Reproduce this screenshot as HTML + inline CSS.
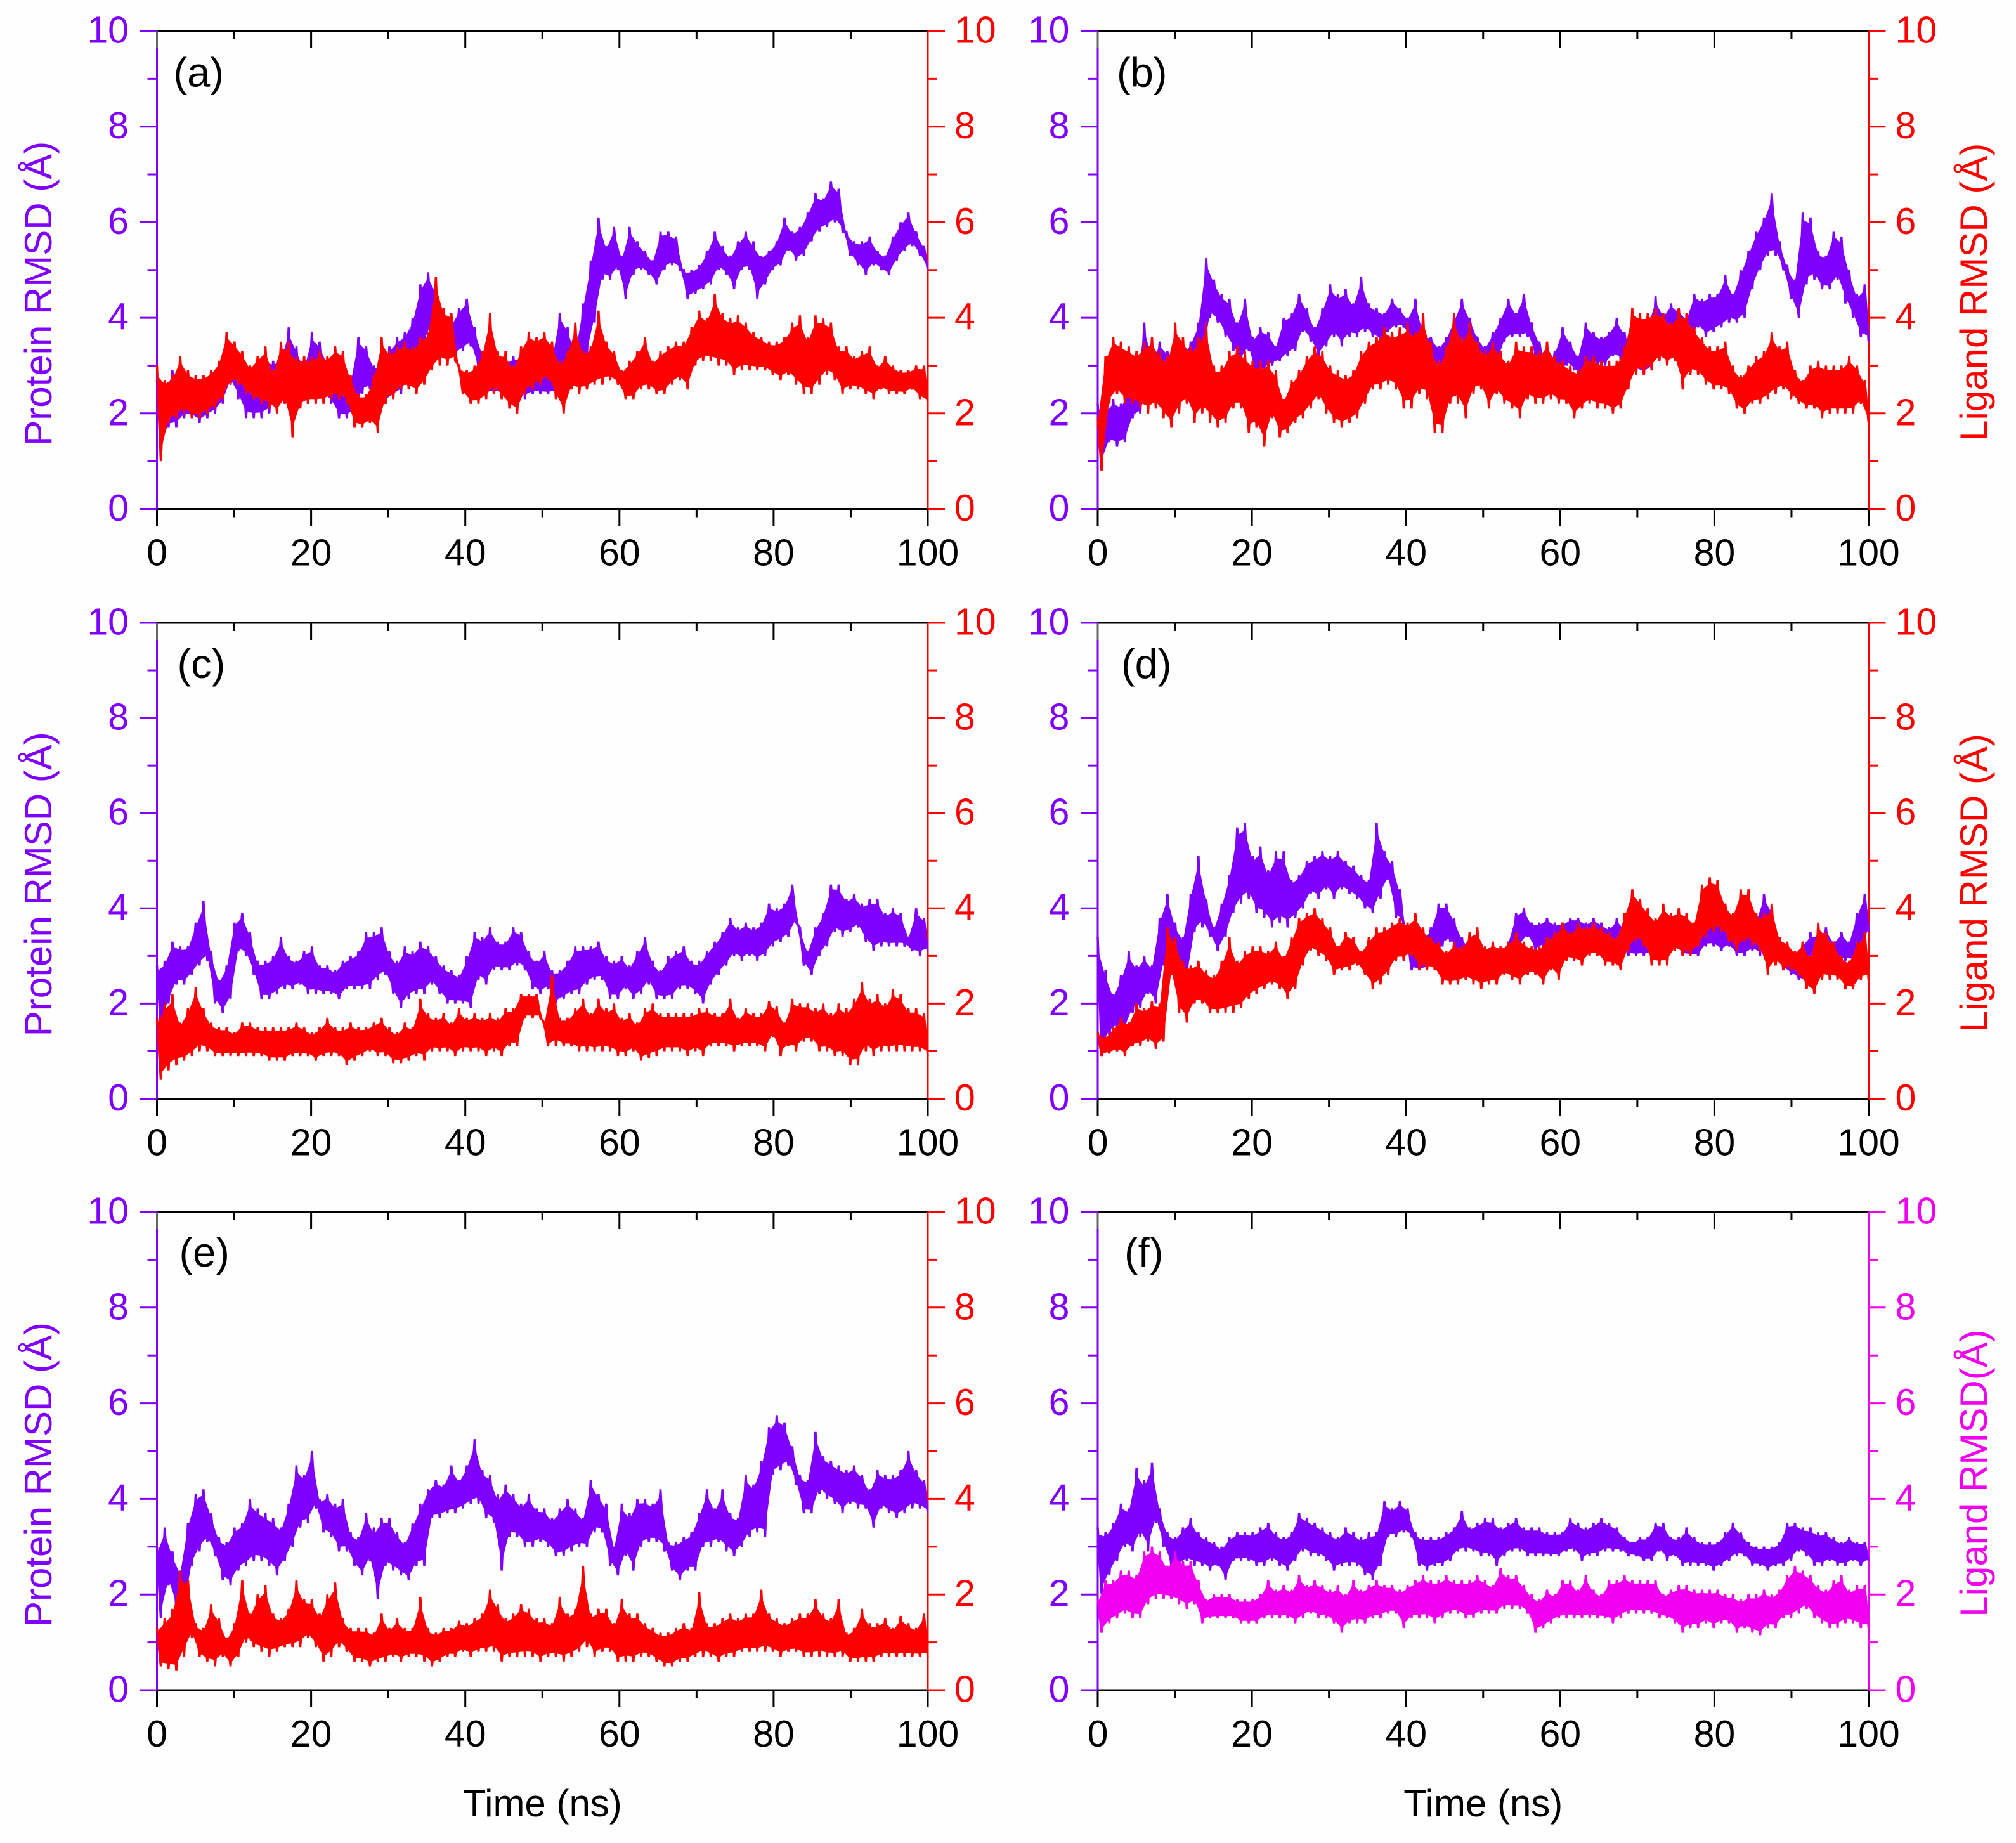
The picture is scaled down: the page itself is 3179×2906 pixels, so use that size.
<!DOCTYPE html>
<html lang="en">
<head>
<meta charset="utf-8">
<title>Protein and ligand RMSD over time</title>
<style>
html,body{margin:0;padding:0;background:#fefefe;}
svg{display:block;font-family:"Liberation Sans",Arial,sans-serif;}
</style>
</head>
<body>
<svg id="figure" xmlns="http://www.w3.org/2000/svg" width="3179" height="2906" viewBox="0 0 3179 2906"></svg>
<script>
const xMajorTicks = [0,20,40,60,80,100];
const xMinorTicks = [10,30,50,70,90];
const yMajorTicks = [0,2,4,6,8,10];
const yMinorTicks = [1,3,5,7,9];
const panelLetters = ['(a)','(b)','(c)','(d)','(e)','(f)'];
const xTitle = 'Time (ns)';
const proteinTitle = 'Protein RMSD (Å)';
const ligandTitle = 'Ligand RMSD (Å)';
const ligandTitleF = 'Ligand RMSD(Å)';

/* each series: alternating upper / lower trace readings, one pair per ns */
const aProtein = [
2.7,1.2,2.6,1.7,2.9,1.7,2.8,1.9,2.7,1.9,2.6,1.8,2.8,1.9,2.9,2.0,3.0,2.2,3.7,2.6,
3.5,2.3,3.2,1.9,3.0,1.9,3.1,1.9,3.2,2.0,3.1,2.2,3.2,2.2,3.8,2.3,3.4,2.2,3.0,2.2,
3.7,2.2,3.5,2.3,3.1,2.2,2.9,1.9,2.8,1.9,2.7,2.0,3.6,2.4,3.4,2.5,3.0,2.3,3.1,2.2,
3.4,2.3,3.6,2.4,3.7,2.6,4.0,2.8,4.7,3.4,4.95,3.8,4.6,3.7,4.2,3.4,3.9,3.2,4.2,3.3,
4.4,3.4,3.8,2.9,3.3,2.4,3.0,2.4,3.1,2.4,3.1,2.5,3.2,2.4,3.2,2.3,3.1,2.4,3.0,2.4,
2.9,2.4,3.2,2.4,4.1,3.0,3.8,2.9,3.3,2.7,4.3,3.2,5.2,3.9,6.1,4.8,5.5,4.8,5.9,5.0,
5.3,4.4,5.9,4.9,5.6,5.0,5.4,4.9,5.2,4.7,5.8,5.0,5.8,5.1,5.7,5.0,5.0,4.4,5.0,4.5,
5.1,4.6,5.4,4.7,5.8,5.0,5.5,4.9,5.3,4.6,5.6,5.0,5.8,5.0,5.6,4.4,5.3,4.7,5.4,5.0,
5.6,5.1,6.1,5.4,5.8,5.2,5.9,5.3,6.2,5.6,6.6,5.8,6.5,5.9,6.85,6.0,6.7,5.8,5.8,5.3,
5.6,5.1,5.6,4.9,5.7,5.1,5.4,5.0,5.3,4.9,5.7,5.2,6.0,5.4,6.2,5.5,5.8,5.3,5.5,5.0];
const aLigand = [
3.0,1.0,2.7,1.8,2.8,1.9,3.2,2.0,2.9,1.9,2.8,1.9,2.8,2.0,2.9,2.1,3.1,2.3,3.7,2.6,
3.5,2.6,3.3,2.4,3.0,2.3,3.2,2.2,3.4,2.1,2.9,2.0,3.5,2.2,3.5,1.5,3.2,2.1,3.2,2.2,
3.2,2.2,3.3,2.2,3.2,2.3,3.4,2.3,3.3,2.2,2.8,1.7,2.4,1.7,2.4,1.8,2.8,1.6,3.6,2.2,
3.3,2.3,3.4,2.5,3.5,2.5,3.4,2.4,3.6,2.6,3.7,2.9,4.85,3.0,4.2,3.0,4.1,3.1,3.0,2.4,
2.9,2.2,3.0,2.2,3.3,2.3,4.1,2.4,3.3,2.3,3.3,2.1,3.0,2.0,3.4,2.4,3.7,2.5,3.6,2.6,
3.7,2.7,3.5,2.3,3.1,2.0,3.3,2.5,3.9,2.4,3.3,2.5,3.4,2.6,4.15,2.6,3.5,2.7,3.3,2.6,
2.9,2.3,3.1,2.3,3.3,2.5,3.6,2.5,3.1,2.4,3.3,2.4,3.4,2.6,3.5,2.7,3.5,2.5,3.8,3.0,
4.15,3.1,4.0,3.1,4.5,3.0,4.1,3.0,4.0,2.8,4.05,2.9,3.9,2.9,3.7,2.9,3.6,2.9,3.5,2.8,
3.5,2.7,3.6,2.8,3.9,2.6,4.05,2.4,3.6,2.4,4.05,2.6,4.0,2.8,3.9,2.7,3.4,2.4,3.4,2.5,
3.2,2.5,3.3,2.4,3.4,2.3,3.0,2.5,3.2,2.4,3.0,2.4,2.9,2.4,2.9,2.5,3.0,2.3,3.0,2.2];
const bProtein = [
2.2,0.9,2.1,1.4,2.3,1.3,2.2,1.4,2.5,1.9,2.7,2.0,3.9,2.4,3.2,2.5,3.5,2.5,3.3,2.6,
3.2,2.4,3.3,2.6,3.5,2.8,3.9,3.0,5.25,4.0,4.8,3.9,4.5,3.6,4.4,3.3,3.9,3.1,4.4,3.3,
3.6,2.7,3.8,2.9,3.7,3.0,3.4,3.1,4.0,3.2,4.1,3.3,4.5,3.7,4.2,3.5,3.8,3.2,4.2,3.4,
4.7,3.6,4.5,3.4,4.6,3.6,4.3,3.6,4.85,3.7,4.3,3.6,4.2,3.5,4.1,3.7,4.4,3.8,4.2,3.8,
4.0,3.5,4.4,3.3,3.7,3.2,3.6,3.0,3.4,2.9,3.6,3.0,4.0,3.2,4.4,3.5,4.0,3.5,3.6,3.1,
3.4,2.9,3.7,3.0,4.0,3.5,4.4,3.6,4.1,3.6,4.5,3.6,3.9,3.2,3.5,3.0,3.0,2.7,3.3,2.6,
3.8,3.0,3.5,2.9,3.2,2.7,3.9,3.0,3.7,3.0,3.6,3.0,3.7,3.2,4.0,3.1,3.7,3.0,3.4,2.9,
3.6,2.8,3.9,2.9,4.45,3.2,4.1,3.3,4.3,3.6,4.2,3.4,4.0,3.5,4.5,3.8,4.4,3.6,4.5,3.7,
4.5,3.8,4.9,3.9,4.5,3.9,5.0,4.0,5.4,4.6,5.8,5.0,6.1,5.3,6.6,5.3,5.6,5.0,5.1,4.4,
4.8,4.0,6.2,4.7,6.1,4.8,5.4,4.6,5.3,4.6,5.8,4.8,5.7,4.3,5.0,4.0,4.5,3.6,4.7,3.5];
const bLigand = [
1.9,0.8,3.2,2.2,3.6,2.4,3.5,2.2,3.4,2.2,3.3,2.1,3.5,2.0,3.6,2.1,3.3,1.9,3.2,1.7,
3.9,2.0,3.6,2.2,3.4,1.8,3.6,2.0,3.9,1.8,3.0,1.7,3.0,1.8,3.3,2.1,3.4,2.1,3.3,1.6,
3.1,1.7,3.1,1.3,3.1,1.9,2.9,1.5,2.3,1.6,2.7,1.8,2.9,1.9,3.2,2.1,3.4,2.3,3.3,2.0,
3.0,1.8,2.9,1.7,2.8,1.8,2.9,1.9,3.3,2.2,3.5,2.5,3.6,2.5,3.8,2.6,3.7,2.5,3.8,2.1,
3.9,2.1,3.7,2.4,4.1,2.3,3.5,1.6,3.1,1.6,3.4,2.2,4.1,2.2,3.6,1.9,3.9,2.4,3.5,2.5,
3.3,2.1,3.5,2.4,3.3,2.2,3.1,2.1,3.5,1.9,3.4,2.3,3.4,2.2,3.3,2.2,3.5,2.3,3.2,2.2,
3.1,2.2,3.0,1.9,2.9,2.1,3.2,2.2,3.2,2.1,3.1,2.1,3.1,2.0,3.1,2.1,3.4,2.5,4.2,2.8,
4.1,2.8,4.1,2.9,4.2,3.1,4.1,3.0,3.9,3.1,4.2,2.5,4.1,2.8,3.8,2.8,3.6,2.6,3.4,2.5,
3.4,2.5,3.5,2.4,3.0,2.1,2.8,2.0,3.0,2.2,3.2,2.2,3.3,2.3,3.7,2.4,3.4,2.5,3.5,2.3,
2.9,2.2,2.7,2.1,3.0,2.1,3.1,1.9,3.0,2.0,3.0,2.0,3.0,2.0,3.2,2.0,3.0,2.2,2.7,1.8];
const cProtein = [
2.8,1.5,2.9,2.0,3.3,2.4,3.2,2.4,3.2,2.6,3.7,2.8,4.15,2.9,3.1,2.0,2.5,1.8,2.8,2.1,
3.7,3.1,3.9,3.0,3.5,2.6,2.9,2.1,2.9,2.1,3.0,2.2,3.4,2.3,3.0,2.3,2.9,2.4,3.1,2.2,
3.2,2.2,2.8,2.2,2.8,2.2,2.7,2.1,2.9,2.3,3.0,2.3,3.1,2.3,3.5,2.3,3.5,2.5,3.6,2.6,
3.1,2.2,2.9,1.9,3.2,2.1,3.1,2.2,3.3,2.2,3.2,2.4,3.0,2.2,2.8,2.0,2.7,2.0,2.6,2.0,
3.0,1.9,3.5,2.5,3.4,2.4,3.6,2.7,3.3,2.7,3.3,2.7,3.6,2.8,3.5,2.7,3.1,2.3,2.9,2.2,
3.1,2.3,2.7,2.0,2.7,2.1,2.9,2.2,3.2,2.2,3.2,2.4,3.2,2.5,3.3,2.5,3.0,2.1,2.9,2.1,
3.0,2.3,2.8,2.1,3.1,2.2,3.4,2.4,2.9,2.1,2.7,2.1,3.0,2.1,3.1,2.3,3.2,2.3,2.9,2.2,
2.9,2.0,3.1,2.4,3.3,2.6,3.5,2.8,3.8,3.0,3.6,2.9,3.7,3.0,3.6,2.9,3.7,3.0,4.1,3.2,
4.0,3.3,4.1,3.4,4.5,3.7,3.6,2.8,3.1,2.6,3.6,3.0,3.9,3.2,4.5,3.5,4.5,3.4,4.2,3.5,
4.3,3.6,4.1,3.3,4.2,3.1,4.2,3.2,3.9,3.2,4.0,3.2,3.9,3.2,3.4,3.1,4.0,3.0,3.8,3.1];
const cLigand = [
1.7,0.4,2.0,0.6,2.2,0.7,1.6,0.8,1.9,0.9,2.35,1.0,1.9,1.0,1.6,0.9,1.5,0.9,1.5,0.9,
1.4,0.9,1.6,0.9,1.6,0.9,1.5,0.9,1.5,0.8,1.5,0.8,1.5,0.8,1.5,0.9,1.6,0.9,1.5,0.9,
1.4,0.8,1.5,0.9,1.7,0.9,1.5,0.9,1.5,0.7,1.6,0.8,1.5,0.9,1.5,1.0,1.6,0.9,1.7,0.9,
1.5,0.75,1.4,0.75,1.6,0.8,1.5,0.9,2.1,0.8,1.8,1.0,1.7,1.0,1.8,1.0,1.6,0.9,1.9,1.0,
1.7,1.0,1.8,1.0,1.7,0.9,1.8,1.0,1.7,0.9,1.9,1.1,1.9,1.1,2.2,1.7,2.2,1.7,2.2,1.7,
1.6,1.1,2.6,1.1,1.7,1.1,1.7,1.1,1.9,1.0,2.1,1.0,1.8,1.0,2.1,1.0,1.9,1.0,2.0,0.9,
1.7,0.9,1.8,1.0,1.6,0.8,1.9,0.85,2.0,0.9,1.8,1.0,1.8,1.0,1.8,1.0,1.8,0.9,1.8,1.0,
1.9,0.9,1.9,1.1,1.8,1.1,1.8,1.1,2.1,1.0,1.7,1.1,1.9,1.1,1.8,1.1,1.8,1.0,2.05,1.3,
1.95,0.9,1.6,1.1,2.1,1.0,2.0,1.2,2.0,1.2,1.9,1.0,2.0,1.0,1.8,0.9,2.0,0.9,1.9,0.7,
2.1,0.7,2.45,1.0,2.1,0.9,2.2,1.0,2.0,1.0,2.3,1.0,2.2,1.0,1.9,1.0,1.9,1.0,1.8,0.9];
const dProtein = [
3.4,0.9,2.7,1.3,2.2,1.5,2.6,1.4,3.1,1.8,2.8,1.9,3.0,2.2,2.8,2.0,3.8,2.8,4.3,3.2,
3.7,2.6,3.4,2.5,4.3,3.5,5.1,3.6,4.2,3.4,3.6,3.1,4.1,3.4,4.7,3.9,5.7,4.1,5.8,4.2,
5.1,3.9,5.3,3.8,4.8,3.6,5.2,3.7,5.2,3.6,4.6,3.8,4.7,4.0,5.0,4.3,5.1,4.2,5.2,4.4,
5.1,4.2,5.2,4.4,5.0,4.3,4.9,4.2,4.7,4.0,4.6,3.9,5.8,4.2,5.2,4.6,5.0,3.8,4.4,3.6,
3.4,2.7,3.1,2.7,3.4,2.7,3.6,2.8,4.1,3.2,4.1,3.3,3.8,3.0,3.4,2.8,3.2,2.7,3.1,2.6,
3.1,2.7,3.2,2.8,3.1,2.8,3.3,2.9,3.9,3.2,4.0,3.4,3.7,3.1,3.7,3.2,3.8,3.2,3.7,3.1,
3.7,3.2,3.8,3.3,3.8,3.3,3.7,3.2,3.8,3.2,3.7,3.1,3.6,3.0,3.8,3.1,3.6,3.0,3.5,3.0,
3.6,3.0,3.6,3.0,3.7,3.1,3.7,3.0,3.7,3.2,3.6,3.0,3.4,3.0,3.4,3.0,3.8,3.2,3.9,3.2,
3.7,3.1,3.6,3.2,3.6,3.0,3.6,3.0,3.8,3.1,3.8,3.0,4.3,3.3,4.0,3.0,3.4,2.7,3.2,2.6,
3.0,2.5,3.3,2.4,3.5,2.5,3.5,2.6,3.6,2.8,3.3,2.9,3.5,2.9,3.3,2.9,3.9,3.1,4.3,3.5];
const dLigand = [
1.4,0.9,1.3,0.95,1.5,1.0,1.7,0.9,1.6,1.1,2.0,1.1,1.9,1.2,2.05,1.05,2.0,1.2,3.6,2.6,
3.4,1.8,2.9,1.6,2.8,2.0,2.9,2.0,2.7,1.8,2.6,1.8,2.9,1.8,3.4,1.8,2.9,1.9,3.1,2.1,
3.2,2.2,3.2,2.3,3.1,2.4,3.3,2.3,3.0,2.1,3.4,2.3,3.8,2.8,3.9,3.1,4.0,3.0,3.8,2.9,
3.6,2.6,3.2,2.7,3.5,2.7,3.4,2.8,3.1,2.6,3.4,2.3,3.6,2.4,3.6,2.6,3.7,2.9,3.8,2.9,
3.7,3.0,3.9,2.7,3.6,2.7,3.4,2.7,3.3,2.4,3.1,2.4,3.3,2.4,3.2,2.5,3.5,2.4,3.6,2.3,
3.2,2.4,3.3,2.4,3.2,2.6,3.3,2.5,3.5,2.4,3.3,2.6,3.2,2.6,3.2,2.4,3.4,2.7,3.5,2.5,
3.7,2.9,3.5,2.9,3.7,2.8,3.6,3.0,3.7,3.0,3.6,2.8,3.5,2.8,3.4,2.7,3.9,3.1,4.4,3.3,
4.2,3.2,4.0,2.8,3.8,2.8,4.1,2.8,3.9,3.1,4.0,3.0,3.9,3.0,3.7,3.2,4.5,3.4,4.65,3.5,
4.6,3.5,4.1,3.3,3.9,3.1,4.4,3.3,4.4,3.2,3.9,3.1,3.9,2.6,4.1,2.8,3.4,2.7,3.3,2.7,
3.1,2.6,3.3,2.3,3.0,2.2,3.7,2.5,3.5,2.5,3.3,2.5,3.0,2.3,2.9,2.3,3.3,2.5,3.5,2.5];
const eProtein = [
3.0,1.5,3.4,2.2,2.9,1.7,2.5,1.7,3.5,2.6,4.1,2.9,4.2,3.1,3.7,2.8,3.2,2.3,3.1,2.2,
3.4,2.5,3.5,2.6,4.0,2.7,3.8,2.7,3.7,2.6,3.6,2.4,3.4,2.7,3.9,3.0,4.7,3.4,4.5,3.5,
5.0,3.8,4.0,3.3,4.1,3.2,3.9,2.9,4.0,2.9,3.3,2.6,3.2,2.4,3.7,2.7,3.4,1.9,3.6,2.6,
3.6,2.5,3.3,2.4,3.1,2.3,3.5,2.6,3.9,2.6,4.2,3.6,4.4,3.6,4.3,3.7,4.7,3.7,4.4,3.8,
4.7,3.9,5.25,3.9,4.6,3.6,4.5,3.5,4.1,2.5,4.3,3.2,4.1,3.2,3.9,3.0,4.1,3.0,3.8,3.1,
3.8,3.0,3.6,2.8,3.8,2.8,4.0,2.9,3.8,3.0,3.6,3.0,4.4,3.3,4.1,3.3,3.9,2.6,3.0,2.4,
3.9,2.8,3.7,2.5,4.0,3.0,4.0,3.1,3.9,3.1,4.2,2.9,3.1,2.5,3.1,2.3,3.2,2.5,3.3,2.5,
3.7,3.0,4.2,3.0,3.8,3.1,4.2,2.9,3.7,2.8,3.6,3.0,4.5,3.2,4.3,3.3,4.8,3.2,5.5,4.5,
5.75,4.6,5.6,4.7,5.1,4.3,4.5,3.7,4.4,3.7,5.4,4.1,4.9,4.0,4.8,3.9,4.7,3.7,4.6,3.9,
4.7,3.8,4.5,3.8,4.2,3.4,4.6,3.8,4.5,3.7,4.5,3.6,4.6,3.7,5.0,3.8,4.6,3.8,4.4,3.7];
const eLigand = [
1.3,0.5,1.5,0.45,1.7,0.4,2.5,0.7,2.3,1.1,1.4,0.7,1.3,0.6,1.8,0.5,1.5,0.7,1.1,0.5,
1.4,0.7,2.3,1.0,1.6,0.9,2.0,0.8,2.2,0.7,1.6,0.8,1.5,0.9,1.7,0.9,2.3,0.9,1.9,1.1,
1.9,0.9,1.6,0.6,2.0,0.7,2.25,0.9,1.5,0.8,1.3,0.6,1.3,0.6,1.3,0.5,1.2,0.6,1.6,0.6,
1.3,0.7,1.5,0.6,1.3,0.7,1.3,0.7,1.95,0.6,1.3,0.5,1.2,0.6,1.3,0.7,1.3,0.7,1.45,0.8,
1.4,0.7,1.5,0.8,1.6,0.8,2.1,0.8,1.8,0.6,1.5,0.7,1.6,0.7,1.8,0.7,1.7,0.7,1.5,0.6,
1.5,0.7,1.4,0.7,1.95,0.6,1.6,0.7,1.7,0.8,2.6,0.9,1.6,0.7,1.7,0.8,1.7,0.8,1.4,0.6,
1.9,0.6,1.6,0.6,1.6,0.7,1.4,0.7,1.3,0.6,1.2,0.5,1.2,0.5,1.3,0.6,1.4,0.6,1.3,0.7,
2.05,0.7,1.4,0.7,1.4,0.6,1.5,0.7,1.6,0.7,1.5,0.8,1.6,0.8,1.6,0.8,2.1,0.8,1.6,0.8,
1.5,0.7,1.4,0.8,1.5,0.8,1.6,0.7,1.6,0.7,1.9,0.7,1.6,0.7,1.5,0.7,1.9,0.7,1.2,0.6,
1.3,0.6,1.7,0.6,1.4,0.6,1.4,0.7,1.5,0.7,1.3,0.7,1.55,0.7,1.4,0.7,1.3,0.7,1.6,0.7];
const fProtein = [
3.4,2.0,3.3,2.4,3.5,2.7,3.9,3.0,3.8,2.9,4.65,3.2,4.4,2.9,4.75,3.5,3.8,3.0,3.3,2.6,
3.2,2.6,3.4,2.7,3.6,2.6,3.3,2.6,3.2,2.5,3.1,2.6,3.0,2.3,3.2,2.7,3.3,2.7,3.3,2.7,
3.3,2.6,3.4,2.6,3.5,2.7,3.3,2.6,3.2,2.5,3.3,2.7,3.7,2.9,3.6,2.8,3.5,2.8,3.4,2.7,
3.3,2.5,3.2,2.6,3.4,2.6,3.3,2.6,3.2,2.4,3.3,2.3,3.3,2.6,3.95,3.2,3.8,3.2,3.95,3.3,
3.8,3.2,3.3,2.6,3.2,2.5,3.2,2.6,3.2,2.6,3.3,2.7,3.4,2.9,3.75,2.9,3.4,2.9,3.5,2.8,
3.6,2.8,3.6,2.6,3.4,2.8,3.5,2.9,3.6,2.9,3.4,2.8,3.4,2.8,3.4,2.8,3.3,2.8,3.3,2.8,
3.3,2.9,3.6,2.9,3.5,2.7,3.4,2.8,3.5,2.8,3.6,2.9,3.5,2.9,3.4,2.9,3.2,2.8,3.1,2.8,
3.2,2.7,3.2,2.7,3.5,2.9,3.5,2.7,3.2,2.8,3.2,2.6,3.4,2.6,3.2,2.6,3.1,2.6,3.1,2.5,
3.1,2.6,3.3,2.7,3.5,2.8,3.3,2.8,3.1,2.6,3.0,2.6,3.0,2.5,3.0,2.6,3.1,2.6,3.5,2.7,
3.5,2.9,3.4,2.8,3.4,2.6,3.3,2.6,3.3,2.7,3.2,2.6,3.1,2.6,3.2,2.7,3.1,2.6,3.1,2.7];
const fLigand = [
1.9,1.2,2.3,1.4,2.3,1.5,2.5,1.6,2.5,1.5,2.4,1.5,2.9,1.8,3.0,1.9,2.9,1.9,2.6,1.9,
2.9,1.8,2.7,1.7,2.7,1.8,2.3,1.4,1.9,1.5,2.0,1.5,2.0,1.5,2.0,1.5,1.9,1.4,1.9,1.4,
1.9,1.4,2.0,1.5,2.3,1.5,2.1,1.5,2.2,1.5,2.1,1.4,2.4,1.5,2.2,1.6,2.3,1.5,2.2,1.5,
2.1,1.4,2.2,1.2,2.0,1.4,2.3,1.4,2.1,1.4,2.2,1.5,2.3,1.5,2.2,1.6,2.2,1.6,2.1,1.3,
2.2,1.5,2.3,1.5,2.4,1.5,2.3,1.4,2.3,1.5,2.4,1.6,2.3,1.6,2.3,1.5,2.3,1.5,2.4,1.6,
2.3,1.6,2.2,1.6,2.55,1.7,2.4,1.7,2.4,1.7,2.2,1.6,2.0,1.2,1.9,1.3,2.1,1.4,2.0,1.5,
2.3,1.5,2.3,1.5,2.1,1.5,2.4,1.5,2.1,1.5,2.0,1.5,2.3,1.4,2.3,1.5,2.4,1.6,2.3,1.6,
2.3,1.6,2.3,1.6,2.3,1.5,2.0,1.5,2.1,1.4,2.2,1.2,2.2,1.3,2.1,1.3,2.1,1.4,2.1,1.3,
2.1,1.4,2.0,1.4,2.0,1.2,1.9,1.3,2.0,1.2,2.0,1.15,2.1,1.3,2.0,1.3,2.1,1.5,2.4,1.5,
2.6,1.6,2.5,1.7,2.4,1.5,2.2,1.4,2.1,1.3,2.3,1.3,2.4,1.4,2.1,1.4,2.2,1.3,2.2,1.3];

const SVG_NS = 'http://www.w3.org/2000/svg';
const PURPLE = '#8000ff', RED = '#ff0000', MAGENTA = '#f000ee', BLACK = '#000000';
const FONT_PX = 59;
const TITLE_PX = 60;
const LETTER_PX = 65;
const TRACE_W = 3.5;
const BAND_INSET = 0.1;

const panelSpecs = [
  {id:'a', left:247.5, right:1463, top:49, bottom:802.5, protein:aProtein, ligand:aLigand, ligandColor:RED, leftTitle:proteinTitle, rightTitle:null, labelDx:26, labelDy:87.5, letter:0},
  {id:'b', left:1731, right:2946.5, top:49, bottom:802.5, protein:bProtein, ligand:bLigand, ligandColor:RED, leftTitle:null, rightTitle:ligandTitle, labelDx:30, labelDy:87.5, letter:1},
  {id:'c', left:247.5, right:1463, top:982, bottom:1732.5, protein:cProtein, ligand:cLigand, ligandColor:RED, leftTitle:proteinTitle, rightTitle:null, labelDx:32, labelDy:87, letter:2},
  {id:'d', left:1731, right:2946.5, top:982, bottom:1732.5, protein:dProtein, ligand:dLigand, ligandColor:RED, leftTitle:null, rightTitle:ligandTitle, labelDx:37, labelDy:87, letter:3},
  {id:'e', left:247.5, right:1463, top:1911, bottom:2665, protein:eProtein, ligand:eLigand, ligandColor:RED, leftTitle:proteinTitle, rightTitle:null, labelDx:35, labelDy:86, letter:4},
  {id:'f', left:1731, right:2946.5, top:1911, bottom:2665, protein:fProtein, ligand:fLigand, ligandColor:MAGENTA, leftTitle:null, rightTitle:ligandTitleF, labelDx:42, labelDy:86, letter:5}
];

const figure = document.getElementById('figure');

function xAxisScale(p, t){ return p.left + (t / 100) * (p.right - p.left); }
function yAxisScale(p, v){ return p.bottom - (v / 10) * (p.bottom - p.top); }

function drawLine(parent, x1, y1, x2, y2, color, name){
  const el = document.createElementNS(SVG_NS, 'line');
  el.setAttribute('x1', x1);
  el.setAttribute('y1', y1);
  el.setAttribute('x2', x2);
  el.setAttribute('y2', y2);
  el.setAttribute('stroke', color);
  el.setAttribute('stroke-width', 3);
  
  
  parent.appendChild(el);
}

function drawText(parent, x, y, str, color, anchor, name, rotate, size){
  const el = document.createElementNS(SVG_NS, 'text');
  el.setAttribute('x', x);
  el.setAttribute('y', y);
  el.setAttribute('fill', color);
  el.setAttribute('font-size', size || FONT_PX);
  el.setAttribute('text-anchor', anchor);
  if (rotate) el.setAttribute('transform', 'rotate(-90 ' + x + ' ' + y + ')');
  el.textContent = str;
  
  
  parent.appendChild(el);
}

/* solid core of the noisy trace: between upper and lower readings of each ns */
function drawBand(parent, p, values, color, name){
  const step = 100 / (values.length - 1);
  const upper = [];
  const lower = [];
  for (let i = 0; i + 1 < values.length; i += 2) {
    const hi = values[i];
    const lo = values[i + 1];
    const inset = (hi - lo) * BAND_INSET;
    upper.push(xAxisScale(p, i * step).toFixed(1) + ',' + yAxisScale(p, hi - inset).toFixed(1));
    lower.unshift(xAxisScale(p, (i + 1) * step).toFixed(1) + ',' + yAxisScale(p, lo + inset).toFixed(1));
  }
  const el = document.createElementNS(SVG_NS, 'polygon');
  el.setAttribute('points', upper.concat(lower).join(' '));
  el.setAttribute('fill', color);
  
  
  parent.appendChild(el);
}

function drawTrace(parent, p, values, color, name){
  const step = 100 / (values.length - 1);
  const pts = values.map(function(v, i){
    return xAxisScale(p, i * step).toFixed(1) + ',' + yAxisScale(p, v).toFixed(1);
  }).join(' ');
  const el = document.createElementNS(SVG_NS, 'polyline');
  el.setAttribute('points', pts);
  el.setAttribute('fill', 'none');
  el.setAttribute('stroke', color);
  el.setAttribute('stroke-width', TRACE_W);
  el.setAttribute('stroke-linejoin', 'miter');
  el.setAttribute('stroke-miterlimit', '2');
  
  
  parent.appendChild(el);
}

panelSpecs.forEach(function(p){
  const g = document.createElementNS(SVG_NS, 'g');
  
  
  figure.appendChild(g);

  /* horizontal frame */
  drawLine(g, p.left, p.top, p.right, p.top, BLACK, 'top-axis-line');
  drawLine(g, p.left, p.bottom, p.right, p.bottom, BLACK, 'x-axis-line');

  /* x ticks, bottom outward and top inward */
  xMajorTicks.forEach(function(t){
    const x = xAxisScale(p, t);
    drawLine(g, x, p.bottom, x, p.bottom + 27, BLACK, 'x-major-tick-' + t);
    if (t > 0 && t < 100) drawLine(g, x, p.top, x, p.top + 27, BLACK, 'top-major-tick-' + t);
    drawText(g, x, p.bottom + 89, String(t), BLACK, 'middle', 'x-tick-label-' + t, false);
  });
  xMinorTicks.forEach(function(t){
    const x = xAxisScale(p, t);
    drawLine(g, x, p.bottom, x, p.bottom + 13, BLACK, 'x-minor-tick-' + t);
    drawLine(g, x, p.top, x, p.top + 13, BLACK, 'top-minor-tick-' + t);
  });

  /* y spines */
  drawLine(g, p.left, p.top, p.left, p.bottom, PURPLE, 'left-axis-line');
  drawLine(g, p.left, p.top, p.left, p.top + 27, '#666666', 'left-top-tick-overlap');
  drawLine(g, p.right, p.top, p.right, p.bottom, p.ligandColor, 'right-axis-line');

  yMajorTicks.forEach(function(v){
    const y = yAxisScale(p, v);
    drawLine(g, p.left - 27, y, p.left, y, PURPLE, 'left-major-tick-' + v);
    drawLine(g, p.right, y, p.right + 27, y, p.ligandColor, 'right-major-tick-' + v);
    drawText(g, p.left - 44.5, y + 18.5, String(v), PURPLE, 'end', 'left-tick-label-' + v, false);
    drawText(g, p.right + 42, y + 18.5, String(v), p.ligandColor, 'start', 'right-tick-label-' + v, false);
  });
  yMinorTicks.forEach(function(v){
    const y = yAxisScale(p, v);
    drawLine(g, p.left - 15, y, p.left, y, PURPLE, 'left-minor-tick-' + v);
    drawLine(g, p.right, y, p.right + 15, y, p.ligandColor, 'right-minor-tick-' + v);
  });

  /* traces */
  drawBand(g, p, p.protein, PURPLE, 'protein-rmsd-band');
  drawTrace(g, p, p.protein, PURPLE, 'protein-rmsd-trace');
  drawBand(g, p, p.ligand, p.ligandColor, 'ligand-rmsd-band');
  drawTrace(g, p, p.ligand, p.ligandColor, 'ligand-rmsd-trace');

  /* titles and letter */
  drawText(g, p.left + p.labelDx, p.top + p.labelDy, panelLetters[p.letter], BLACK, 'start', 'panel-label', false, LETTER_PX);
  const midY = (p.top + p.bottom) / 2 + 36;
  if (p.leftTitle) drawText(g, 81, midY + 1, p.leftTitle, PURPLE, 'middle', 'protein-y-axis-title', true, TITLE_PX);
  if (p.rightTitle) drawText(g, 3133, midY - 1, p.rightTitle, p.ligandColor, 'middle', 'ligand-y-axis-title', true, TITLE_PX);
  if (p.id === 'e' || p.id === 'f') {
    drawText(g, (p.left + p.right) / 2, 2864, xTitle, BLACK, 'middle', 'x-axis-title', false, TITLE_PX);
  }
});
</script>
</body>
</html>
